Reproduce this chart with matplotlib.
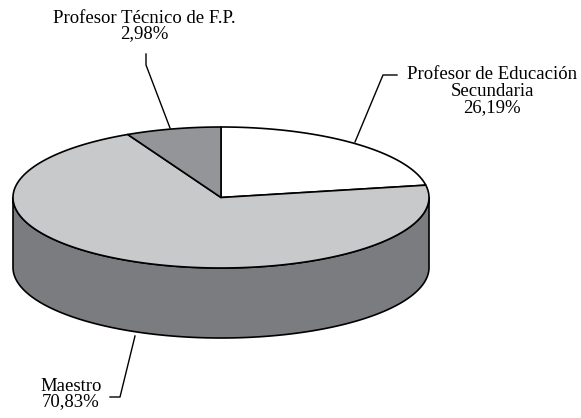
import numpy as np
import matplotlib.pyplot as plt
from matplotlib.patches import Polygon

# Data
categories = ["Profesor de Educación\nSecundaria", "Maestro", "Profesor Técnico de F.P."]
percent_labels = ["26,19%", "70,83%", "2,98%"]
drawn_shares = [22.2, 70.4, 7.4]   # slice sizes as drawn in the picture (%)
colors = ["#ffffff", "#c8c9cb", "#949599"]
side_color = "#7b7c80"

plt.rcParams['font.family'] = 'serif'
plt.rcParams['font.serif'] = ['Liberation Serif', 'DejaVu Serif']

fig = plt.figure(figsize=(5.81, 4.18), dpi=100)
ax = fig.add_axes([0, 0, 1, 1])
ax.set_xlim(0, 581)
ax.set_ylim(418, 0)
ax.axis('off')

cx, cy, rx, ry, depth = 221, 197.5, 208, 70.5, 70
lw = 1.2

def ell(t, dy=0):
    t = np.radians(t)
    return np.column_stack([cx + rx * np.cos(t), cy - ry * np.sin(t) + dy])

# side (front half)
ts = np.linspace(180, 360, 200)
top = ell(ts)
bot = ell(ts[::-1], depth)
ax.add_patch(Polygon(np.vstack([top, bot]), closed=True, facecolor=side_color,
                     edgecolor='black', linewidth=lw, joinstyle='round'))

# top wedges, clockwise from 90 deg
start = 90.0
for share, col in zip(drawn_shares, colors):
    end = start - share * 3.6
    tt = np.linspace(start, end, 200)
    pts = np.vstack([[cx, cy], ell(tt)])
    ax.add_patch(Polygon(pts, closed=True, facecolor=col, edgecolor='black',
                         linewidth=lw, joinstyle='round'))
    start = end

fs = 13.5
ls = 0.92
# Labels
ax.text(492, 91, categories[0] + "\n" + percent_labels[0], ha='center', va='center',
        fontsize=fs, linespacing=0.98)
ax.plot([397, 383, 355], [75, 75, 142], color='black', lw=1.0)

ax.text(71, 394, categories[1] + "\n" + percent_labels[1], ha='center', va='center',
        fontsize=fs, linespacing=ls)
ax.plot([135, 120, 110], [336, 397, 397], color='black', lw=1.0)

ax.text(144, 26, categories[2] + "\n" + percent_labels[2], ha='center', va='center',
        fontsize=fs, linespacing=ls)
ax.plot([146, 146, 170], [54, 65, 128], color='black', lw=1.0)

fig.savefig('out.png', dpi=100)
